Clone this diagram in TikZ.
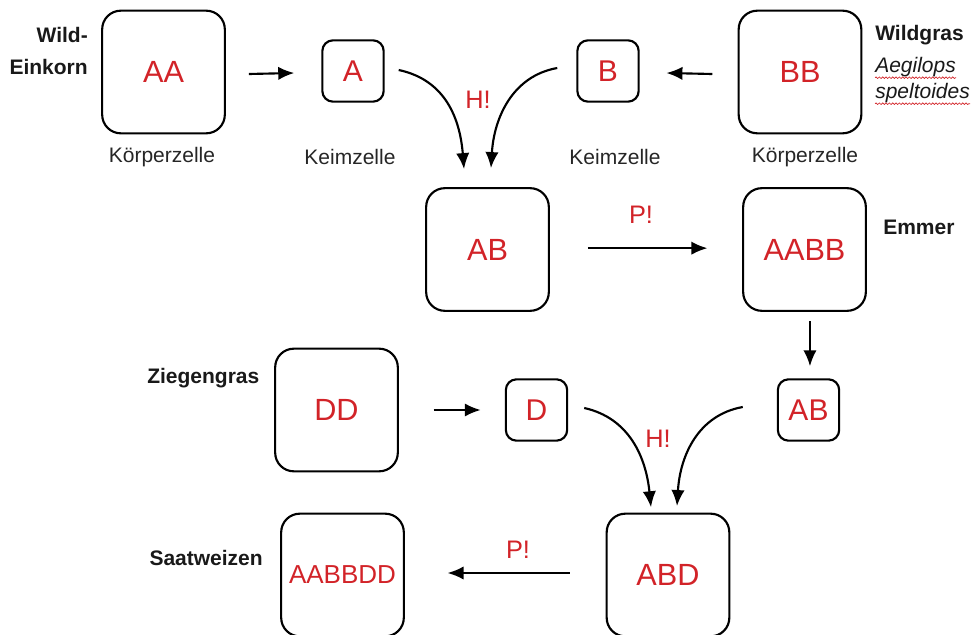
\documentclass[tikz,border=0pt]{standalone}
\usepackage{fontspec}
\setmainfont{Liberation Sans}
\usetikzlibrary{arrows.meta,decorations.pathmorphing}
\definecolor{gred}{RGB}{210,35,40}
\begin{document}
\begin{tikzpicture}[x=0.75pt,y=-0.75pt,
  bigbox/.style={draw,line width=1.6pt,rounded corners=14pt,minimum width=92pt,minimum height=92pt,inner sep=0pt,text=gred,font=\fontsize{23}{26}\selectfont},
  smallbox/.style={draw,line width=1.6pt,rounded corners=8pt,minimum width=46pt,minimum height=46pt,inner sep=0pt,text=gred,font=\fontsize{22.5}{26}\selectfont},
  lbl/.style={font=\fontsize{15.75}{18}\selectfont,inner sep=0pt,text=black!85},
  namebold/.style={font=\bfseries\fontsize{15.75}{18}\selectfont,inner sep=0pt,text=black!90},
  namelat/.style={font=\itshape\fontsize{15.75}{18}\selectfont,inner sep=0pt,text=black!90},
  redlbl/.style={text=gred,font=\fontsize{19}{21}\selectfont,inner sep=0pt},
  arr/.style={line width=1.6pt,-{Latex[length=12pt,width=10pt]}},
  wavy/.style={gred,line width=0.5pt,decorate,decoration={snake,amplitude=0.6pt,segment length=2.5pt}},
]
\useasboundingbox (0,0) rectangle (976,635);
\clip (0,0) rectangle (976,635);

% boxes
\node[bigbox] (AA) at (163.5,72) {AA};
\node[smallbox] (A) at (353,71) {A};
\node[smallbox] (B) at (608,71) {B};
\node[bigbox] (BB) at (800,72) {BB};
\node[bigbox] (AB) at (487.5,249.5) {AB};
\node[bigbox] (AABB) at (804.5,249.5) {AABB};
\node[bigbox] (DD) at (336.5,410) {DD};
\node[smallbox] (D) at (536.5,410) {D};
\node[smallbox] (ABs) at (808.5,410) {AB};
\node[bigbox] (ABD) at (668,575) {ABD};
\node[bigbox,font=\fontsize{19.5}{22}\selectfont] (AABBDD) at (342.5,575) {AABBDD};

% labels
\node[lbl] (k1) at (162,157) {Körperzelle};
\node[lbl] (k2) at (350,157) {Keimzelle};
\node[lbl] (k3) at (615,157) {Keimzelle};
\node[lbl] (k4) at (805,157) {Körperzelle};
\node[namebold,anchor=east] (wild) at (88,35) {Wild-};
\node[namebold,anchor=east] (eink) at (88,67) {Einkorn};
\node[namebold,anchor=west] (wg) at (875,35) {Wildgras};
\node[namelat,anchor=west] (aeg) at (875,67) {Aegilops};
\node[namelat,anchor=west] (spe) at (875,93) {speltoides};
\node[namebold,anchor=west] (emm) at (883,227) {Emmer};
\node[namebold,anchor=west] (zg) at (147,378) {Ziegengras};
\node[namebold,anchor=east] (sw) at (263,558) {Saatweizen};

\draw[wavy] ([yshift=-0.5pt]aeg.south west) -- ([yshift=-0.5pt]aeg.south east);
\draw[wavy] ([yshift=-0.5pt]spe.south west) -- ([yshift=-0.5pt]spe.south east);

\node[redlbl] (h1) at (478,100) {H!};
\node[redlbl] (p1) at (641,215) {P!};
\node[redlbl] (h2) at (658,439) {H!};
\node[redlbl] (p2) at (518,550) {P!};

% straight arrows
\draw[arr] ([xshift=17.25pt,yshift=-1.5pt]AA.east) -- ([xshift=-20.25pt,yshift=-1.5pt]A.west);
\draw[arr] ([xshift=-19pt,yshift=-1.5pt]BB.west) -- ([xshift=20pt,yshift=-1.5pt]B.east);
\draw[arr] ([xshift=28.5pt,yshift=1pt]AB.east) -- ([xshift=-26pt,yshift=1pt]AABB.west);
\draw[arr] ([xshift=26pt]DD.east) -- ([xshift=-18pt]D.west);
\draw[arr] ([xshift=4.1pt,yshift=-7pt]AABB.south) -- ([xshift=1.1pt,yshift=9pt]ABs.north);
\draw[arr] ([xshift=-27pt,yshift=1.5pt]ABD.west) -- ([xshift=32pt,yshift=1.5pt]AABBDD.east);

% curved arrows
\draw[arr] ([xshift=10.5pt,yshift=0.75pt]A.east) .. controls +(47,10) and +(-4,-50) .. ([xshift=-17.6pt,yshift=13.5pt]AB.north);
\draw[arr] ([xshift=-14.25pt,yshift=2.25pt]B.west) .. controls +(-45,8) and +(3,-50) .. ([xshift=2.6pt,yshift=14.25pt]AB.north);
\draw[arr] ([xshift=12pt,yshift=1.5pt]D.east) .. controls +(45,10) and +(-5,-50) .. ([xshift=-12.75pt,yshift=4pt]ABD.north);
\draw[arr] ([xshift=-25.5pt,yshift=2.25pt]ABs.west) .. controls +(-45,8) and +(3,-50) .. ([xshift=6.75pt,yshift=4.9pt]ABD.north);
\end{tikzpicture}
\end{document}
